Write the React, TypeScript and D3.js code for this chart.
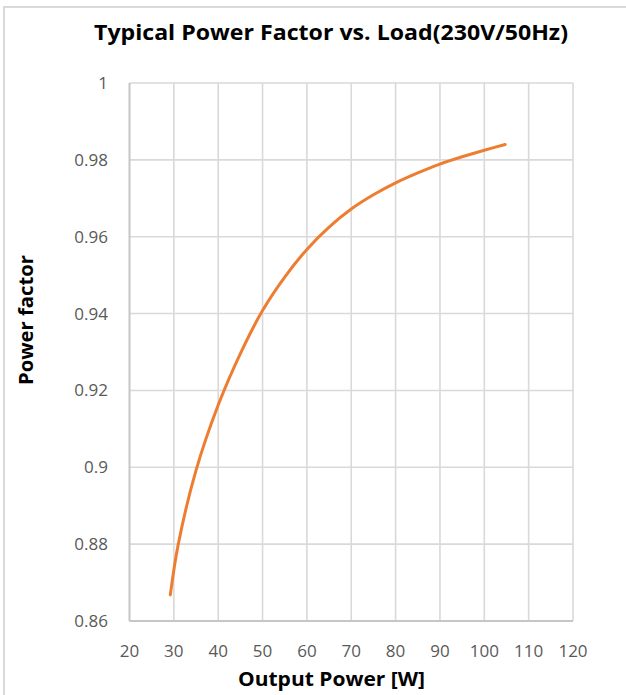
import * as d3 from "d3";
import React from "react";

const outputPower = [29.2, 31, 35, 40, 45, 50, 55, 60, 65, 70, 75, 80, 85, 90, 95, 100, 104.7];
const powerFactor = [0.8668, 0.88, 0.8992, 0.9162, 0.9296, 0.9408, 0.9495, 0.9567, 0.9625, 0.9672, 0.9709, 0.974, 0.9766, 0.9789, 0.9808, 0.9825, 0.984];
const xTicks = [20, 30, 40, 50, 60, 70, 80, 90, 100, 110, 120];
const yTicks = [0.86, 0.88, 0.9, 0.92, 0.94, 0.96, 0.98, 1];

const title = "Typical Power Factor vs. Load(230V/50Hz)";
const xTitle = "Output Power [W]";
const yTitle = "Power factor";

export default function App() {
  const width = 626;
  const height = 695;
  const plot = { left: 129.5, right: 573, top: 83, bottom: 621 };
  const font = "'Open Sans', 'Noto Sans', sans-serif";

  const x = d3.scaleLinear().domain([20, 120]).range([plot.left, plot.right]);
  const y = d3.scaleLinear().domain([0.86, 1]).range([plot.bottom, plot.top]);

  const points = outputPower.map((p, i) => [p, powerFactor[i]] as [number, number]);
  const line = d3
    .line<[number, number]>()
    .x((d) => x(d[0]))
    .y((d) => y(d[1]))
    .curve(d3.curveCatmullRom.alpha(0.5));

  return (
    <div style={{ position: "absolute", left: 0, top: 0 }}>
      <svg width={width} height={height} style={{ display: "block", background: "#fff" }}>
        <rect x={4} y={7} width={640} height={720} fill="#fff" stroke="#d9d9d9" strokeWidth={2} />

        <text
          x={331}
          y={40}
          textAnchor="middle"
          fontFamily={font}
          fontWeight="bold"
          fontSize={22}
          fill="#000"
          textLength={474}
          lengthAdjust="spacingAndGlyphs"
        >
          {title}
        </text>

        {/* grid */}
        <g stroke="#d9d9d9" strokeWidth={1.6}>
          {xTicks.slice(1).map((t) => (
            <line key={"gx" + t} x1={x(t)} x2={x(t)} y1={plot.top} y2={plot.bottom} />
          ))}
          {yTicks.slice(1).map((t) => (
            <line key={"gy" + t} x1={plot.left} x2={plot.right} y1={y(t)} y2={y(t)} />
          ))}
        </g>
        {/* axis lines */}
        <g stroke="#c6c6c6" strokeWidth={2}>
          <line x1={plot.left} x2={plot.left} y1={plot.top} y2={plot.bottom} />
          <line x1={plot.left} x2={plot.right} y1={plot.bottom} y2={plot.bottom} />
        </g>

        <g fontFamily={font} fontSize={17} fill="#595959">
          {yTicks.map((t) => (
            <text key={"ty" + t} x={108} y={y(t)} dy="0.35em" textAnchor="end">
              {d3.format("~g")(t)}
            </text>
          ))}
          {xTicks.map((t) => (
            <text key={"tx" + t} x={x(t)} y={657} textAnchor="middle">
              {t}
            </text>
          ))}
        </g>

        <path d={line(points) ?? ""} fill="none" stroke="#ed7d31" strokeWidth={3} strokeLinecap="round" />

        <text
          x={331.5}
          y={686}
          textAnchor="middle"
          fontFamily={font}
          fontWeight="bold"
          fontSize={19}
          fill="#000"
          textLength={187}
          lengthAdjust="spacingAndGlyphs"
        >
          {xTitle}
        </text>
        <text
          transform="translate(33,320) rotate(-90)"
          textAnchor="middle"
          fontFamily={font}
          fontWeight="bold"
          fontSize={19}
          fill="#000"
          textLength={130}
          lengthAdjust="spacingAndGlyphs"
        >
          {yTitle}
        </text>
      </svg>
    </div>
  );
}
